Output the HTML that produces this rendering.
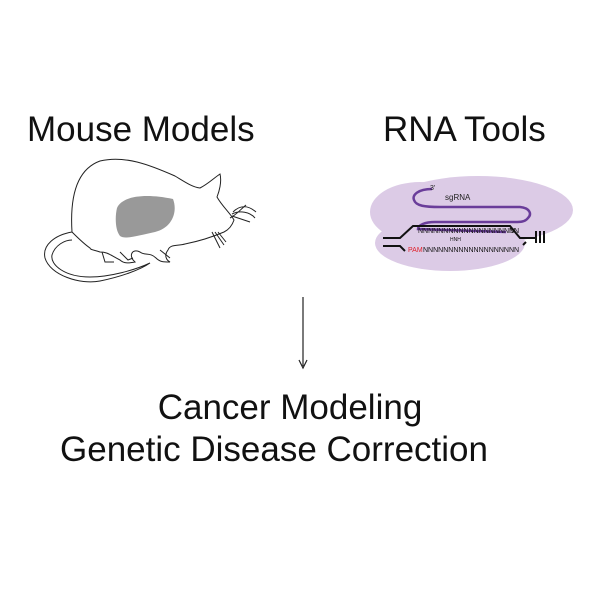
<!DOCTYPE html>
<html><head><style>
body{margin:0;width:600px;height:600px;background:#fff;overflow:hidden;font-family:"Liberation Sans",Arial,sans-serif}
.t{position:absolute;color:#111;white-space:nowrap;font-size:35px;line-height:35px}
</style></head><body>
<div class="t" style="left:27px;top:112px">Mouse Models</div>
<div class="t" style="left:383px;top:112px">RNA Tools</div>
<div class="t" style="left:0;width:580px;text-align:center;top:390px">Cancer Modeling</div>
<div class="t" style="left:60px;top:432px">Genetic Disease Correction</div>
<svg width="600" height="600" style="position:absolute;left:0;top:0">
<line x1="303" y1="297" x2="303" y2="366" stroke="#222" stroke-width="1.2"/>
<path d="M299,360 L303,368 L307,360" fill="none" stroke="#222" stroke-width="1.2"/>
<g fill="none" stroke="#222" stroke-width="1">
<path d="M72,232 C70,200 75,170 100,161 C125,155 150,165 175,176 C185,182 192,187 200,188 C208,184 214,178 220,174 C222,182 219,192 217,197 C222,206 230,213 234,220 C232,226 228,230 224,232 C210,238 195,242 185,244 C178,246 170,244 168,250 C164,255 166,260 170,262 C163,262 160,262 156,258 C150,252 145,256 140,252 C132,248 128,256 135,262 C130,263 124,264 120,260 C110,255 108,252 100,252 C95,250 90,250 90,248 C84,244 78,238 72,232 Z"/>
<path d="M72,232 C55,235 42,245 45,258 C50,275 80,285 100,281 C120,277 140,270 150,263 C135,270 110,277 90,277 C65,277 50,265 52,255 C55,245 65,240 72,240"/>
<path d="M233,212 C240,205 248,205 256,212 M232,214 C240,210 250,212 255,218 M232,216 L250,222 M230,218 C236,215 240,210 246,205 M212,232 L220,248 M215,232 L224,245 M218,232 L226,242"/>
<path d="M120,252 L128,260 L133,258 M102,252 L105,262 L114,262 M160,250 L170,258"/>
</g>
<path d="M117,208 C122,196 145,193 173,199 C178,212 172,228 155,232 C140,235 125,240 120,236 C115,230 115,216 117,208 Z" fill="#999"/>
<ellipse cx="478" cy="210" rx="95" ry="34" fill="#dccbe6"/>
<ellipse cx="450" cy="243" rx="75" ry="28" fill="#dccbe6"/>
<ellipse cx="420" cy="212" rx="50" ry="30" fill="#dccbe6"/>
<path d="M432,189 C418,189 412,195 414,200 C416,206 425,207 440,207 L520,207 C530,208 532,214 528,218 C525,222 520,222 515,222 L435,222 C425,222 418,225 418,229 L506,232" fill="none" stroke="#6a3d9a" stroke-width="2.5"/>
<text x="430" y="190" font-size="7" fill="#222">3'</text>
<text x="445" y="200" font-size="8" fill="#222">sgRNA</text>
<path d="M383,238 L400,238 L413,226 L510,226 L520,238 L535,238" fill="none" stroke="#111" stroke-width="2"/>
<path d="M383,246 L400,246 L405,251 M523,245 L526,242" fill="none" stroke="#111" stroke-width="2"/>
<path d="M536,231 L536,243 M540,231 L540,243 M544,231 L544,243" stroke="#111" stroke-width="2"/>
<text x="418" y="233" font-size="7" fill="#111">NNNNNNNNNNNNNNNNNNNN</text>
<text x="450" y="241" font-size="5" fill="#111">HNH</text>
<text x="408" y="252" font-size="7" fill="#e0202a">PAM</text>
<text x="423" y="252" font-size="7" fill="#111">NNNNNNNNNNNNNNNNNNN</text>
<text x="510" y="233" font-size="7" fill="#111">5'</text>
</svg>
</body></html>
